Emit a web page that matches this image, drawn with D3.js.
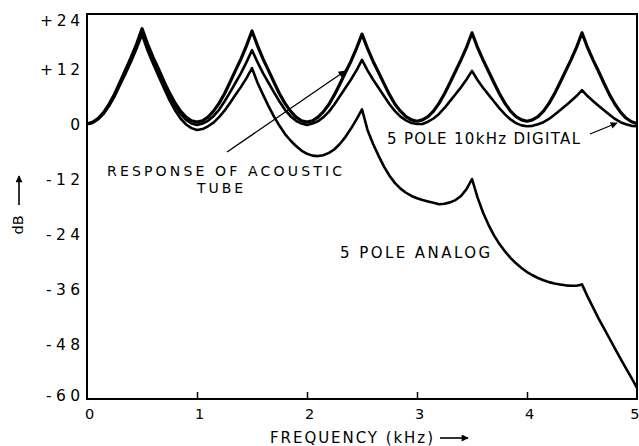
<!DOCTYPE html>
<html>
<head>
<meta charset="utf-8">
<script src="https://cdn.jsdelivr.net/npm/d3@7"></script>
<style>
  html, body { margin: 0; padding: 0; background: #fff; }
  svg { display: block; }
  text { font-family: "DejaVu Sans", "Liberation Sans", sans-serif; fill: #000; }
</style>
</head>
<body>
<svg id="chart" width="639" height="446"></svg>
<script>
// Frequency grid (kHz), 0.05 kHz steps
const freqs = d3.range(0, 101).map(i => +(i * 0.05).toFixed(2));

// Response of the acoustic tube (dB)
const tubeDb = [
  0, 0.35, 1.2, 2.5, 4.3, 6.5, 9.1, 11.8, 14.5, 17.4,
  20.8, 17.5, 14.6, 12.0, 9.3, 6.8, 4.6, 2.8, 1.5, 0.7,
  0.4, 0.7, 1.5, 2.8, 4.5, 6.6, 9.1, 11.7, 14.2, 17.1,
  20.3, 17.1, 14.2, 11.7, 9.1, 6.6, 4.5, 2.8, 1.5, 0.7,
  0.4, 0.7, 1.5, 2.7, 4.3, 6.4, 8.8, 11.3, 13.7, 16.5,
  19.6, 16.5, 13.7, 11.3, 8.8, 6.4, 4.3, 2.8, 1.6, 0.9,
  0.6, 0.9, 1.6, 2.8, 4.5, 6.6, 9.0, 11.5, 14.0, 16.7,
  19.9, 16.7, 14.0, 11.5, 9.0, 6.6, 4.5, 2.8, 1.6, 0.9,
  0.6, 0.9, 1.6, 2.8, 4.5, 6.6, 9.0, 11.5, 14.0, 16.7,
  19.9, 16.7, 14.0, 11.5, 8.9, 6.4, 4.3, 2.6, 1.3, 0.5,
  0.1
];

// 5 pole 10 kHz digital filter (dB)
const digitalDb = [
  0, 0.3, 1.1, 2.3, 4.1, 6.3, 8.8, 11.4, 14.0, 16.9,
  20.2, 16.9, 14.0, 11.4, 8.8, 6.2, 4.0, 2.2, 0.9, 0.1,
  -0.2, 0.1, 0.7, 1.7, 3.1, 4.9, 6.9, 9.0, 11.1, 13.5,
  16.1, 13.5, 11.1, 9.0, 6.9, 4.9, 3.1, 1.7, 0.7, 0.1,
  -0.2, 0.1, 0.6, 1.5, 2.7, 4.3, 6.1, 7.9, 9.7, 11.7,
  14.0, 11.7, 9.7, 7.9, 6.1, 4.3, 2.8, 1.6, 0.8, 0.2,
  0.0, 0.0, 0.5, 1.2, 2.2, 3.5, 5.0, 6.5, 8.0, 9.7,
  11.6, 9.6, 7.9, 6.4, 4.9, 3.4, 2.1, 1.0, 0.2, -0.3,
  -0.5, -0.4, -0.05, 0.4, 1.1, 2.0, 3.0, 4.0, 5.0, 6.1,
  7.4, 6.1, 5.0, 4.0, 3.0, 2.0, 1.1, 0.4, -0.05, -0.4,
  -0.5
];

// 5 pole analog filter (dB)
const analogDb = [
  0, 0.3, 1.0, 2.2, 3.9, 6.0, 8.5, 11.0, 13.6, 16.4,
  19.5, 16.1, 13.2, 10.5, 7.8, 5.2, 3.0, 1.2, -0.1, -0.9,
  -1.3, -1.1, -0.5, 0.3, 1.5, 2.9, 4.6, 6.4, 8.1, 10.0,
  12.2, 9.0, 6.4, 3.9, 1.6, -0.4, -2.2, -3.6, -4.8, -5.8,
  -6.5, -6.9, -7.0, -6.8, -6.3, -5.5, -4.3, -2.8, -1.0, 1.0,
  3.2, -1.3, -4.3, -6.9, -9.3, -11.3, -12.9, -14.1, -15.0, -15.7,
  -16.2, -16.6, -16.9, -17.2, -17.5, -17.4, -17.1, -16.6, -15.7, -14.2,
  -12.0, -16.0, -19.3, -22.0, -24.3, -26.2, -27.8, -29.2, -30.4, -31.4,
  -32.3, -33.0, -33.6, -34.1, -34.5, -34.8, -35.0, -35.2, -35.3, -35.3,
  -35.0, -37.6, -40.0, -42.4, -44.6, -46.8, -49.0, -51.2, -53.3, -55.4,
  -57.6
];

// Axis ticks
const xTicks = [0, 1, 2, 3, 4, 5];
const xTickLabels = ["0", "1", "2", "3", "4", "5"];
const yTicks = [24, 12, 0, -12, -24, -36, -48, -60];
const yTickLabels = ["+24", "+12", "0", "-12", "-24", "-36", "-48", "-60"];

const svg = d3.select("#chart");
const x = d3.scaleLinear().domain([0, 5]).range([87, 637]);
const y = d3.scaleLinear().domain([-60, 24]).range([399, 14]);

// Bottom axis: inward ticks, labels below
const xAxis = svg.append("g")
  .attr("transform", `translate(0,${y(-60)})`)
  .call(d3.axisBottom(x).tickValues(xTicks)
    .tickFormat((d, i) => xTickLabels[i])
    .tickSize(-7).tickPadding(10));
xAxis.select(".domain").remove();
xAxis.selectAll(".tick line")
  .attr("stroke", "#000").attr("stroke-width", 1.5)
  .filter(d => d === 0 || d === 5).remove();
xAxis.selectAll(".tick text")
  .attr("font-size", 14.5).attr("dx", 2);
// the last label sits against the right edge of the page
xAxis.selectAll(".tick text").filter(d => d === 5)
  .attr("text-anchor", "end").attr("dx", 2);

// Left axis: labels only
const yAxis = svg.append("g")
  .attr("transform", `translate(${x(0)},0)`)
  .call(d3.axisLeft(y).tickValues(yTicks)
    .tickFormat((d, i) => yTickLabels[i])
    .tickSize(0).tickPadding(7));
yAxis.select(".domain").remove();
yAxis.selectAll(".tick text")
  .attr("font-size", 15.5)
  .attr("dy", d => d === 24 ? "0.72em" : (d === -60 ? "0.12em" : "0.34em"))
  .filter(d => d !== 0)
  .attr("lengthAdjust", "spacing")
  .attr("textLength", d => d > 0 ? 40 : 34);

// Plot frame
svg.append("rect")
  .attr("x", x(0)).attr("y", y(24))
  .attr("width", x(5) - x(0)).attr("height", y(-60) - y(24))
  .attr("fill", "none").attr("stroke", "#000").attr("stroke-width", 2);

// Curves
const clipId = "plotClip";
svg.append("clipPath").attr("id", clipId).append("rect")
  .attr("x", x(0)).attr("y", y(24))
  .attr("width", x(5) - x(0)).attr("height", y(-60) - y(24) + 1);

const line = d3.line().x((d, i) => x(freqs[i])).y(d => y(d)).curve(d3.curveLinear);
const curves = svg.append("g").attr("clip-path", `url(#${clipId})`);
[[analogDb, 2.6], [digitalDb, 2.6], [tubeDb, 3.2]].forEach(([vals, w]) => {
  curves.append("path")
    .attr("d", line(vals))
    .attr("fill", "none").attr("stroke", "#000")
    .attr("stroke-width", w).attr("stroke-linejoin", "round");
});

// Arrow marker
svg.append("defs").append("marker")
  .attr("id", "arrowHead").attr("viewBox", "0 0 10 10")
  .attr("refX", 9).attr("refY", 5)
  .attr("markerWidth", 12).attr("markerHeight", 7)
  .attr("markerUnits", "userSpaceOnUse")
  .attr("orient", "auto")
  .append("path").attr("d", "M0,0 L10,5 L0,10 Z").attr("fill", "#000");

// Annotations, stretched to the lettering widths
const label = (tx, ty, str, len, size) => svg.append("text")
  .attr("x", tx).attr("y", ty).attr("font-size", size || 15)
  .attr("lengthAdjust", "spacing").attr("textLength", len)
  .text(str);

label(107, 176, "RESPONSE  OF  ACOUSTIC", 235, 14);
label(197, 193, "TUBE", 46, 14);
label(387, 144, "5 POLE 10kHz DIGITAL", 193);
label(340, 258, "5  POLE  ANALOG", 150);

svg.append("line")
  .attr("x1", 227).attr("y1", 152).attr("x2", 345).attr("y2", 71)
  .attr("stroke", "#000").attr("stroke-width", 1.3)
  .attr("marker-end", "url(#arrowHead)");
svg.append("line")
  .attr("x1", 590).attr("y1", 134).attr("x2", 617).attr("y2", 123)
  .attr("stroke", "#000").attr("stroke-width", 1.3)
  .attr("marker-end", "url(#arrowHead)");

// Axis titles
label(270, 443, "FREQUENCY  (kHz)", 163, 15);
svg.append("line")
  .attr("x1", 440).attr("y1", 438).attr("x2", 468).attr("y2", 438)
  .attr("stroke", "#000").attr("stroke-width", 1.6)
  .attr("marker-end", "url(#arrowHead)");

svg.append("text")
  .attr("transform", "translate(23,225) rotate(-90)")
  .attr("text-anchor", "middle").attr("font-size", 14.5).text("dB");
svg.append("line")
  .attr("x1", 19).attr("y1", 205).attr("x2", 19).attr("y2", 176)
  .attr("stroke", "#000").attr("stroke-width", 1.6)
  .attr("marker-end", "url(#arrowHead)");
</script>
</body>
</html>
